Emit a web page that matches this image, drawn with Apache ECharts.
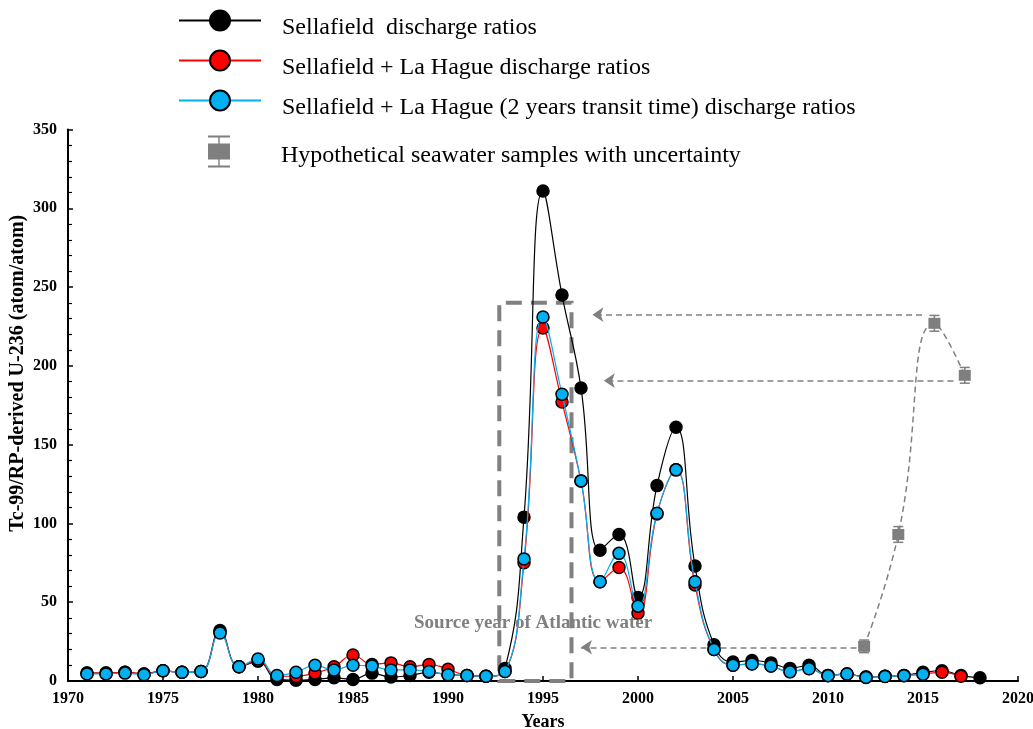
<!DOCTYPE html>
<html><head><meta charset="utf-8">
<script src="https://cdn.jsdelivr.net/npm/echarts/dist/echarts.min.js"></script>
<style>html,body{margin:0;padding:0;background:#fff;}#c{width:1033px;height:729px;}</style>
</head><body><div id="c"></div>
<script>
// ---- data ----
const years = [1971,1972,1973,1974,1975,1976,1977,1978,1979,1980,1981,1982,1983,1984,1985,1986,1987,1988,1989,1990,1991,1992,1993,1994,1995,1996,1997,1998,1999,2000,2001,2002,2003,2004,2005,2006,2007,2008,2009,2010,2011,2012,2013,2014,2015,2016,2017,2018];
const sellafield = [5,5,5.5,4.5,6.5,5.5,6,32,9,12.5,1,0.5,1,2,1,5,2.5,3.5,5.5,4,3.5,3,8,104,311,245,186,83,93,53,124,161,73,23,12,13,11.5,8,10,3.5,4.5,2.5,3,3.5,5.5,6.5,3.5,2];
const sellafieldLaHague = [5,5,5.5,4.5,6.5,5.5,6,31,9,13,3,3,5,9,16.5,10.5,11.5,9,10.5,7.5,3.5,3,6,75,224,177,127,63,72,43,106,134,61,20,10,11,9.5,6,8,3.5,4.5,2.5,3,3.5,4.5,5.5,3,null];
const sellafieldLaHagueTransit = [4.5,4.5,5,4,6.5,5.5,6,30.5,9,14,3.5,5.5,10,7,10,9.5,7,7,6,4,3.5,3,6,77.5,231,182,127,63,81,47.5,106.5,134,63,20,10,10.8,9.5,5.8,7.8,3.4,4.4,2.3,2.9,3.4,4.3,null,null,null];
const sampleYears = [2011.9, 2013.7, 2015.6, 2017.2];
const sampleValues = [22, 93, 227, 194];
const sampleUncertainty = [4, 5, 5, 5];
const arrowFromYears = [2011.5, 2014.95, 2016.6];
const arrowToYears = [1997.0, 1997.6, 1998.2];
const arrowValues = [21.4, 232.5, 190.6];
const sourceBoxYears = [1992.7, 1996.5];
const sourceBoxValues = [0, 240];
const sourceLabelText = 'Source year of Atlantic water';
const sourceLabelAt = [1994.48, 37];
const seriesNames = ['Sellafield  discharge ratios', 'Sellafield + La Hague discharge ratios', 'Sellafield + La Hague (2 years transit time) discharge ratios', 'Hypothetical seawater samples with uncertainty'];
const xAxisName = 'Years';
const yAxisName = 'Tc-99/RP-derived U-236 (atom/atom)';

// ---- helpers ----
const pairs = (xs, ys) => xs.map((x, i) => [x, ys[i]]).filter(p => p[1] != null);
const SERIF = 'Liberation Serif';
function dataLine(name, values, color, z) {
  return {
    name, type: 'line', data: pairs(years, values), smooth: 0.45, z,
    symbol: 'circle', symbolSize: 12,
    itemStyle: { color, borderColor: '#000', borderWidth: 1.5 },
    lineStyle: { color, width: 1.2 },
    emphasis: { disabled: true }
  };
}
function legendRow(name, top, itemHeight, padTop, icon) {
  return {
    orient: 'vertical', left: 178, top, padding: 0, itemWidth: 82, itemHeight, itemGap: 0,
    selectedMode: false,
    data: [icon ? { name, icon, itemStyle: { color: '#7f7f7f', borderWidth: 0 } } : name],
    lineStyle: { width: 2 },
    formatter: n => '{t|' + n + '}',
    textStyle: {
      fontFamily: SERIF, fontSize: 24, color: '#000', padding: [0, 0, 0, 16],
      rich: { t: { fontFamily: SERIF, fontSize: 24, color: '#000', padding: [padTop, 0, 0, 0] } }
    }
  };
}
const sampleIcon = 'path://M0,16h0.01v0.01h-0.01Z M82,16h-0.01v0.01h0.01Z M30,0H52V2H30Z M40.3,2H41.7V8H40.3Z M30,8H52V24H30Z M40.3,24H41.7V30H40.3Z M30,30H52V32H30Z';

const chart = echarts.init(document.getElementById('c'), null, { renderer: 'canvas' });
chart.setOption({
  animation: false,
  backgroundColor: '#fff',
  grid: { left: 68, right: 15, top: 129.5, bottom: 48, containLabel: false, outerBoundsMode: 'none' },
  legend: [
    legendRow(seriesNames[0], 9.5, 25, 14),
    legendRow(seriesNames[1], 49.5, 25, 14),
    legendRow(seriesNames[2], 89.5, 25, 14),
    legendRow(seriesNames[3], 135.5, 32, 8, sampleIcon)
  ],
  xAxis: {
    type: 'value', min: 1970, max: 2020, interval: 5,
    name: xAxisName, nameLocation: 'middle', nameGap: 32,
    nameTextStyle: { fontFamily: SERIF, fontWeight: 'bold', fontSize: 18, color: '#000' },
    axisLine: { show: true, onZero: false, lineStyle: { color: '#000', width: 2 } },
    axisTick: { show: true, inside: true, length: 5, lineStyle: { color: '#000', width: 1.5 } },
    axisLabel: { fontFamily: SERIF, fontWeight: 'bold', fontSize: 16, color: '#000', margin: 10, formatter: v => String(v) },
    splitLine: { show: false }
  },
  yAxis: {
    type: 'value', min: 0, max: 350, interval: 50,
    name: yAxisName, nameLocation: 'middle', nameGap: 40, nameRotate: 90, nameMoveOverlap: false,
    nameTextStyle: { fontFamily: SERIF, fontWeight: 'bold', fontSize: 20, color: '#000', padding: [0, 0, 0, 64] },
    axisLine: { show: true, lineStyle: { color: '#000', width: 2 } },
    axisTick: { show: true, inside: true, length: 5, lineStyle: { color: '#000', width: 1.5 } },
    minorTick: { show: true, splitNumber: 5, length: 4, lineStyle: { color: '#000', width: 1.2 } },
    axisLabel: { fontFamily: SERIF, fontWeight: 'bold', fontSize: 16, color: '#000', margin: 11 },
    splitLine: { show: false }
  },
  series: [
    dataLine(seriesNames[0], sellafield, '#000000', 3),
    dataLine(seriesNames[1], sellafieldLaHague, '#ff0000', 4),
    dataLine(seriesNames[2], sellafieldLaHagueTransit, '#00b0f0', 5),
    {
      name: seriesNames[3], type: 'line', z: 6,
      data: pairs(sampleYears, sampleValues), smooth: 0.5,
      symbol: 'rect', symbolSize: [12, 11],
      itemStyle: { color: '#7f7f7f' },
      lineStyle: { color: '#808080', width: 1.5, type: [6, 4] },
      emphasis: { disabled: true },
      markLine: {
        silent: true, symbol: ['none', 'arrow'], symbolSize: 11,
        label: { show: false },
        lineStyle: { color: '#808080', width: 1.5, type: [6, 4] },
        data: arrowValues.map((v, i) => [{ coord: [arrowFromYears[i], v] }, { coord: [arrowToYears[i], v] }])
      },
      markArea: {
        silent: true,
        itemStyle: { color: 'rgba(0,0,0,0)', borderColor: '#808080', borderWidth: 4, borderType: [16, 9] },
        data: [[{ coord: [sourceBoxYears[0], sourceBoxValues[0]] }, { coord: [sourceBoxYears[1], sourceBoxValues[1]] }]]
      },
      markPoint: {
        silent: true, symbol: 'circle', symbolSize: 1, itemStyle: { color: 'rgba(0,0,0,0)' },
        label: { show: true, position: 'inside', formatter: sourceLabelText, fontFamily: SERIF, fontWeight: 'bold', fontSize: 19, color: '#808080' },
        data: [{ coord: sourceLabelAt }]
      }
    },
    {
      name: 'uncertainty', type: 'custom', z: 7, silent: true,
      data: sampleYears.map((x, i) => [x, sampleValues[i] - sampleUncertainty[i], sampleValues[i] + sampleUncertainty[i]]),
      renderItem: function (params, api) {
        const lo = api.coord([api.value(0), api.value(1)]);
        const hi = api.coord([api.value(0), api.value(2)]);
        const w = 5;
        const st = { stroke: '#7f7f7f', lineWidth: 1.5 };
        return { type: 'group', children: [
          { type: 'line', shape: { x1: lo[0], y1: lo[1], x2: hi[0], y2: hi[1] }, style: st },
          { type: 'line', shape: { x1: lo[0] - w, y1: lo[1], x2: lo[0] + w, y2: lo[1] }, style: st },
          { type: 'line', shape: { x1: hi[0] - w, y1: hi[1], x2: hi[0] + w, y2: hi[1] }, style: st }
        ] };
      }
    }
  ]
});
</script></body></html>
